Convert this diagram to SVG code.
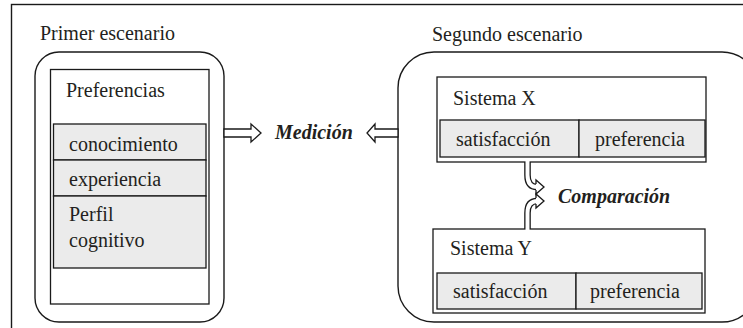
<svg xmlns="http://www.w3.org/2000/svg" width="743" height="328" viewBox="0 0 743 328">
  <style>
    .frame { fill: none; stroke: #1a1a1a; stroke-width: 1.4; }
    .scen { fill: #ffffff; stroke: #1a1a1a; stroke-width: 1.4; }
    .box { fill: #ffffff; stroke: #1a1a1a; stroke-width: 1.3; }
    .cell { fill: #ebebeb; stroke: #1a1a1a; stroke-width: 1.3; }
    .t { font-family: "Liberation Serif", "Times New Roman", serif; font-size: 20px; fill: #231f20; }
    .lbl { font-family: "Liberation Serif", "Times New Roman", serif; font-size: 20px; font-weight: bold; font-style: italic; fill: #231f20; }
    .blk { fill: #ffffff; stroke: #1a1a1a; stroke-width: 1.3; stroke-linejoin: miter; }
    .shaft-out { fill: none; stroke: #1a1a1a; stroke-width: 6.6; }
    .shaft-in { fill: none; stroke: #ffffff; stroke-width: 4; }
  </style>

  <!-- outer frame -->
  <rect class="frame" x="11.5" y="4.5" width="740" height="330"/>

  <!-- first scenario -->
  <g id="escenario1">
    <text class="t" x="40" y="40">Primer escenario</text>
    <rect class="scen" x="35" y="52" width="189" height="270" rx="24" ry="24"/>
  </g>
  <g id="preferencias">
    <rect class="box" x="50.5" y="69.5" width="158.5" height="234.5"/>
    <text class="t" x="66" y="97">Preferencias</text>
    <rect class="cell" x="53.5" y="124" width="152.5" height="36"/>
    <text class="t" x="69" y="151">conocimiento</text>
    <rect class="cell" x="53.5" y="160" width="152.5" height="36"/>
    <text class="t" x="69" y="186">experiencia</text>
    <rect class="cell" x="53.5" y="196" width="152.5" height="72"/>
    <text class="t" x="69" y="221">Perfil</text>
    <text class="t" x="69" y="247">cognitivo</text>
  </g>

  <!-- second scenario -->
  <g id="escenario2">
    <text class="t" x="432" y="41">Segundo escenario</text>
    <rect class="scen" x="398" y="52" width="360" height="270" rx="36" ry="36"/>
  </g>
  <g id="sistemaX">
    <rect class="box" x="437" y="77" width="269" height="85"/>
    <text class="t" x="453" y="105">Sistema X</text>
    <rect class="cell" x="440" y="120" width="139" height="37"/>
    <rect class="cell" x="579" y="120" width="126" height="37"/>
    <text class="t" x="456" y="146">satisfacción</text>
    <text class="t" x="595" y="146">preferencia</text>
  </g>
  <g id="sistemaY">
    <rect class="box" x="433" y="229" width="272" height="84"/>
    <text class="t" x="450" y="255">Sistema Y</text>
    <rect class="cell" x="437" y="273" width="139" height="36"/>
    <rect class="cell" x="576" y="273" width="126" height="36"/>
    <text class="t" x="453" y="298">satisfacción</text>
    <text class="t" x="590" y="298">preferencia</text>
  </g>

  <!-- connector labels -->
  <g id="medicion">
    <text class="lbl" x="275" y="139">Medición</text>
  </g>
  <g id="comparacion">
    <text class="lbl" x="558" y="203">Comparación</text>
  </g>

  <!-- connectors -->
  <g id="connectors">
    <!-- block arrow into Medición from the left -->
    <polygon class="blk" points="224,129 251,129 251,124 261,133 251,142 251,137 224,137"/>
    <!-- block arrow into Medición from the right -->
    <polygon class="blk" points="398,129 375,129 375,124 367,133 375,142 375,137 398,137"/>

    <!-- curved arrow down from Sistema X -->
    <path class="shaft-out" d="M527.5,162 V175 Q527.5,187 537,187"/>
    <path class="shaft-in" d="M527.5,161 V175 Q527.5,187 537.5,187"/>
    <path class="blk" d="M536,184 V180 L544,187 L536,194 V190"/>

    <!-- curved arrow up from Sistema Y -->
    <path class="shaft-out" d="M527.5,229 V213 Q527.5,201 537,201"/>
    <path class="shaft-in" d="M527.5,230 V213 Q527.5,201 537.5,201"/>
    <path class="blk" d="M536,198 V194 L544,201 L536,208 V204"/>
  </g>
</svg>
